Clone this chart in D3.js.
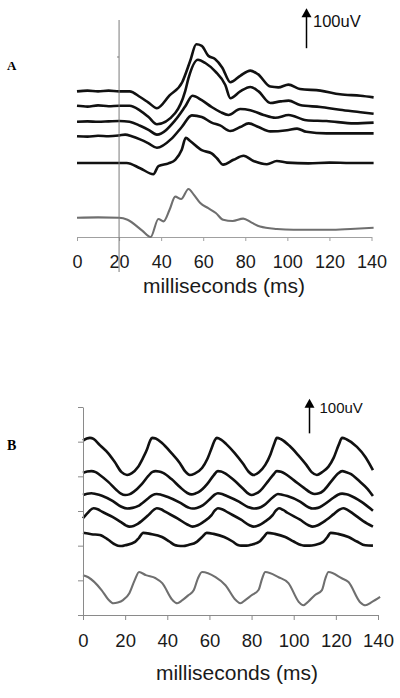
<!DOCTYPE html>
<html><head><meta charset="utf-8">
<script src="https://cdn.jsdelivr.net/npm/d3@7"></script>
<style>body{margin:0;background:#fff}svg{display:block}</style>
</head><body><svg id="c" width="400" height="698"></svg>
<script>
// ---------- DATA ----------
const xTicks = [0, 20, 40, 60, 80, 100, 120, 140];
const xLabel = "milliseconds (ms)";
const scaleLabel = "100uV";
const panelLabels = ["A", "B"];

// Panel A: vertical offsets (µV) of each trace and traces as [ms, µV deviation]
const offsetsA = [364, 328, 288, 252, 185, 48];
const traceA1 = [[0,0],[5,2],[10,0],[15,2],[20,0],[25,0],[30,-14],[34,-28],[38,-42],[44,-10],[50,23],[53.8,76],[56.7,118],[59.3,114],[62.4,89],[65.6,81],[69,60],[72.9,23],[77.6,39],[82.4,52],[86,43],[91.9,12],[95.7,10],[100.5,17],[106,6],[115.7,2],[125,-7],[134.8,-11],[141,-15]];
const traceA2 = [[0,0],[5,-2],[10,1],[15,-1],[20,0],[25,0],[30,-12],[34,-28],[38,-46],[46.7,-18],[51.4,36],[53,69],[57.5,115],[61,107],[65.7,86],[70.5,52],[72.9,19],[77.6,36],[82.4,47],[86.3,36],[91.9,7],[96.7,11],[100.6,13],[106,2],[115.7,-3],[125,-10],[134.8,-16],[141,-20]];
const traceA3 = [[0,0],[5,1],[10,0],[15,1],[20,2],[25,0],[30,-10],[34,-20],[38,-32],[46.7,4],[51.4,38],[54.9,65],[59.3,54],[64,37],[68,25],[72,17],[77.6,32],[82.4,29],[88.7,17],[94.3,10],[100.6,17],[109,4],[118.6,2],[131.8,-4],[141,-2]];
const traceA4 = [[0,0],[5,-1],[10,1],[15,0],[20,2],[22.9,4],[26,0],[30,-8],[34,-18],[38,-29],[45,-6],[49.8,23],[54.6,52],[59.3,48],[64,34],[68,27],[72.9,13],[77.6,23],[81.6,32],[86.3,23],[91.9,12],[99.8,15],[104.6,19],[109,11],[118.6,7],[131.8,7],[141,7]];
const traceA5 = [[0,0],[10,0],[20,0],[23.6,0],[30,-13],[36.3,-28],[38.7,-8],[43.5,-1],[46.7,8],[49.8,33],[51.7,63],[53.8,55],[59.3,32],[64,24],[66.5,12],[69.5,-4],[74.4,8],[79.2,18],[83.9,5],[90.3,-3],[95,5],[99.8,1],[110,-1],[120,1],[130,0],[141,0]];
const traceA6 = [[0,0],[10,1],[20,0],[24,-5],[31,-32],[35,-48],[38.7,-3],[41.1,-9],[44,20],[46.7,53],[49.5,47],[53,72],[55.5,58],[58.6,37],[62.4,24],[66,12],[69.5,-5],[74,-8],[79,-2],[83,-12],[87,-22],[95,-28],[103,-30],[120,-30],[130,-28],[141,-25]];

// Panel B
const yTicksB = [0, 100, 200, 300, 400, 500, 600];
const offsetsB = [500, 400, 349, 283, 237, 115];
const traceB1 = [[0,3],[1.8,9],[3.3,11],[5,8],[8,-10],[11.9,-33],[15,-58],[18.3,-88],[20.9,-96],[23.2,-91],[26,-74],[28.4,-48],[30.4,-22],[31.8,2],[32.8,11],[34.5,9],[37.5,-4],[42,-33],[46,-62],[48.5,-86],[50.7,-96],[53,-92],[56.5,-76],[59,-50],[61.2,-16],[62.5,4],[63.5,11],[65.5,6],[68,-7],[72,-33],[76,-64],[78.5,-86],[81,-96],[83.5,-88],[86.5,-67],[89,-36],[90.8,-5],[92,11],[94,7],[98,-12],[102,-38],[106,-67],[108.5,-88],[111,-96],[113.5,-88],[116.5,-72],[119,-46],[121.3,-10],[123,11],[125,7],[130,-15],[134,-44],[137.6,-82]];
const traceB2 = [[0,10],[2,14],[4,15],[6,12],[8,4],[12,-16],[16,-40],[18,-50],[20,-54],[22,-52],[24,-45],[28,-22],[31,1],[33,13],[34.5,15],[36,14],[38,10],[42,-8],[46,-31],[49.5,-48],[51.5,-52],[53.5,-49],[55,-45],[59,-22],[62,3],[64,15],[65.5,14],[67,10],[72,-13],[76,-36],[78.5,-50],[80,-54],[82,-50],[84,-42],[88,-13],[90.5,6],[92,15],[94,13],[96,7],[100,-11],[105,-34],[108,-47],[110,-51],[112,-49],[114,-42],[118,-13],[121,8],[123,15],[125,12],[127,7],[131,-13],[135,-36],[137.6,-57]];
const traceB3 = [[0,-3],[2,1],[4,2],[6,0],[9,-5],[14,-20],[18,-36],[21,-42],[23.5,-40],[26,-35],[31,-12],[33,-3],[35,0],[37,-2],[40,-8],[46,-25],[50,-39],[52,-42],[54,-40],[57,-32],[61,-10],[62.5,-2],[64,2],[66,0],[68,-5],[74,-22],[78.5,-38],[81,-42],[83.5,-40],[86,-32],[90,-10],[92.5,0],[94.5,-2],[97,-6],[103,-22],[107,-38],[109,-42],[111.5,-40],[114,-32],[119,-10],[121,-2],[123,1],[125,-1],[127,-5],[132,-22],[137.6,-48]];
const traceB4 = [[0,-4],[2,10],[5,25],[7,22],[9,15],[14,0],[18,-15],[20.5,-25],[22,-28],[24,-26],[26,-20],[31,5],[33.5,20],[35,25],[37,22],[39,15],[45,-5],[49.5,-22],[52,-28],[54.5,-24],[57,-15],[61,5],[62.5,18],[64,25],[66,22],[69,12],[75,-8],[79,-24],[81,-28],[83.5,-24],[86,-15],[90,5],[91.5,18],[93,25],[95,20],[97,12],[103,-8],[107,-24],[109,-28],[111.5,-24],[114,-15],[119,8],[121.5,20],[123.5,25],[125.5,20],[128,10],[133,-12],[137.6,-28]];
const traceB5 = [[0,0],[4,-4],[8,-6],[12,-20],[15,-33],[16.6,-37],[18.5,-38],[20,-36],[24.7,-26],[26.5,-15],[28.6,0],[32,-3],[37.5,-12],[41,-25],[43.5,-35],[45,-37],[47.5,-38],[50,-35],[54,-26],[56.5,-12],[58.7,0],[62,-3],[67,-12],[71,-25],[73.5,-35],[75,-37],[77.5,-37],[80,-34],[84,-24],[86,-10],[87.5,0],[91,-3],[96,-12],[100,-25],[103.5,-35],[105,-37],[107.5,-37],[110,-35],[114,-26],[116,-12],[117.5,0],[121,-3],[126,-12],[130,-25],[134,-36],[137.6,-37]];
const traceB6 = [[0,0],[2.5,-6],[8.8,-43],[12,-70],[14.4,-81],[16.5,-79],[19,-72],[22,-52],[24.5,-15],[26.6,9],[29.8,0],[34.5,-9],[37.6,-23],[42.5,-72],[44.7,-81],[47,-73],[50,-58],[52.6,-43],[54.5,-10],[56.5,9],[62.9,-6],[67.6,-29],[72.5,-72],[74.7,-81],[77,-72],[80,-58],[83.3,-43],[85,-10],[86.5,9],[92.8,-6],[97.5,-23],[102.5,-78],[104.6,-87],[107,-76],[110,-58],[113.4,-43],[115,-10],[116.5,9],[122.8,-9],[126,-20],[131.5,-78],[134,-87],[137,-78],[141,-63]];

const tracesA = [traceA1, traceA2, traceA3, traceA4, traceA5, traceA6];
const tracesB = [traceB1, traceB2, traceB3, traceB4, traceB5, traceB6];
const scaleBarA = 472;  // µV level of arrow base, panel A
const scaleBarB = 524;  // µV level of arrow base, panel B
const scaleBarSize = 100;

// ---------- DRAW ----------
const svg = d3.select("#c");
svg.append("rect").attr("width", 400).attr("height", 698).attr("fill", "#fff");
const FONT = "Arial, 'Liberation Sans', sans-serif";

const xA = d3.scaleLinear().domain([0, 140]).range([77, 371.5]);
const yA = d3.scaleLinear().domain([0, 550]).range([237, 17]);
const xB = d3.scaleLinear().domain([0, 140]).range([83, 378]);
const yB = d3.scaleLinear().domain([0, 600]).range([615, 407]);

function drawPanel(x, y, traces, offsets, opts) {
  const g = svg.append("g");
  const ax = g.append("g").attr("transform", `translate(0,${y(0)})`)
    .call(d3.axisBottom(x).tickValues(xTicks).tickSize(opts.tick).tickSizeOuter(0).tickPadding(opts.pad));
  ax.select(".domain").attr("stroke", opts.axisColor).attr("stroke-width", 1);
  ax.selectAll(".tick line").attr("stroke", opts.axisColor);
  ax.selectAll(".tick text").attr("font-family", FONT).attr("font-size", opts.tickFont).attr("fill", "#1a1a1a");
  g.append("text").attr("x", opts.labelX).attr("y", opts.labelY).attr("text-anchor", "middle")
    .attr("font-family", FONT).attr("font-size", opts.labelFont).attr("fill", "#1a1a1a").text(xLabel);

  const line = d3.line().x(d => x(d[0])).y(d => y(d[1])).curve(d3.curveMonotoneX);
  traces.forEach((t, i) => {
    const gray = i === traces.length - 1;
    g.append("path")
      .datum(t.map(d => [d[0], d[1] + offsets[i]]))
      .attr("d", line)
      .attr("fill", "none")
      .attr("stroke", gray ? "#6f6f6f" : "#111")
      .attr("stroke-width", gray ? 2.1 : 2.6)
      .attr("stroke-linejoin", "round");
  });
  return g;
}

// Panel A
const gA = drawPanel(xA, yA, tracesA, offsetsA, {tick: 4, pad: 14, tickFont: 18, axisColor: "#a0a0a0", labelX: 224, labelY: 293, labelFont: 21});
gA.append("line").attr("x1", xA(20)).attr("x2", xA(20)).attr("y1", 20).attr("y2", 272)
  .attr("stroke", "#7a7a7a").attr("stroke-width", 1);
gA.append("line").attr("x1", xA(20) - 2).attr("x2", xA(20)).attr("y1", yA(450)).attr("y2", yA(450))
  .attr("stroke", "#7a7a7a").attr("stroke-width", 1);

// Panel B
const gB = drawPanel(xB, yB, tracesB, offsetsB, {tick: 5, pad: 14, tickFont: 18.5, axisColor: "#8a8a8a", labelX: 237, labelY: 680, labelFont: 21});
const ay = gB.append("g").attr("transform", `translate(${xB(0)},0)`)
  .call(d3.axisLeft(yB).tickValues(yTicksB).tickSize(5).tickSizeOuter(0).tickFormat(""));
ay.select(".domain").attr("stroke", "#8a8a8a");
ay.selectAll(".tick line").attr("stroke", "#8a8a8a");

function scaleBar(xpos, y, base, fs, tx, ty) {
  const y0 = y(base), y1 = y(base + scaleBarSize);
  svg.append("line").attr("x1", xpos).attr("x2", xpos).attr("y1", y0).attr("y2", y1 + 6)
    .attr("stroke", "#000").attr("stroke-width", 1.5);
  svg.append("path").attr("d", `M${xpos},${y1} L${xpos - 5},${y1 + 9} L${xpos + 5},${y1 + 9} Z`).attr("fill", "#000");
  svg.append("text").attr("x", tx).attr("y", ty).attr("font-family", FONT).attr("font-size", fs)
    .attr("fill", "#111").text(scaleLabel);
}
scaleBar(306.5, yA, scaleBarA, 16.5, 313, 26.5);
scaleBar(309.5, yB, scaleBarB, 15, 319.5, 413);

svg.append("text").attr("x", 7).attr("y", 70).attr("font-family", "'Liberation Serif', 'Times New Roman', serif")
  .attr("font-weight", "bold").attr("font-size", 13).text(panelLabels[0]);
svg.append("text").attr("x", 7).attr("y", 450).attr("font-family", "'Liberation Serif', 'Times New Roman', serif")
  .attr("font-weight", "bold").attr("font-size", 14).text(panelLabels[1]);
</script>
</body></html>
